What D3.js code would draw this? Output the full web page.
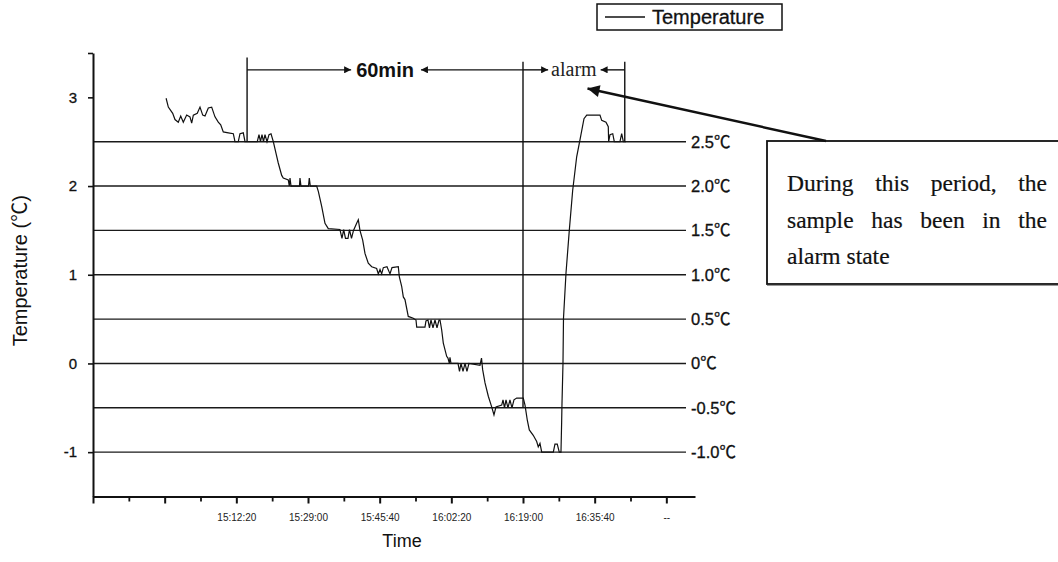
<!DOCTYPE html>
<html><head><meta charset="utf-8">
<script src="https://cdn.jsdelivr.net/npm/d3@7"></script>
<style>body{margin:0;background:#fff} svg{display:block}</style>
</head><body>
<svg id="c" width="1058" height="562"></svg>
<script>
// ---- data ----
const times = ["14:56:00","14:56:31","14:57:32","14:58:04","14:58:50","14:59:24","15:00:00","15:00:47","15:01:33","15:01:57",
"15:02:20","15:03:15","15:03:53","15:04:31","15:05:03","15:05:49","15:06:36","15:07:22","15:08:08","15:08:42",
"15:09:18","15:10:28","15:11:38","15:12:01","15:12:47","15:13:11","15:13:57","15:14:21","15:17:12","15:17:36",
"15:17:57","15:18:18","15:18:39","15:19:00","15:19:28","15:19:56","15:20:24","15:20:56","15:21:33","15:22:05",
"15:22:53","15:23:15","15:24:25","15:24:39","15:24:49","15:25:03","15:27:01","15:27:08","15:27:22","15:29:07",
"15:29:18","15:29:32","15:31:01","15:31:24","15:32:11","15:32:57","15:33:43","15:36:26","15:36:54","15:37:18",
"15:37:43","15:38:18","15:38:39","15:39:07","15:39:35","15:40:19","15:40:42","15:41:05","15:41:43","15:42:15",
"15:43:01","15:43:49","15:44:58","15:45:21","15:45:45","15:46:08","15:46:31","15:47:22","15:48:04","15:48:32",
"15:50:00","15:50:14","15:50:47","15:51:10","15:51:33","15:52:19","15:53:29","15:54:07","15:54:17","15:56:12",
"15:56:26","15:56:54","15:57:15","15:57:36","15:58:04","15:58:32","15:59:00","15:59:28","15:59:42","16:00:05",
"16:00:28","16:01:15","16:01:33","16:01:52","16:02:01","16:02:15","16:03:53","16:04:14","16:04:35","16:05:03",
"16:05:31","16:05:58","16:06:26","16:09:00","16:09:21","16:09:37","16:10:10","16:10:56","16:11:43","16:12:15",
"16:12:43","16:14:03","16:14:21","16:14:42","16:15:03","16:15:30","16:15:58","16:16:26","16:16:54","16:17:32",
"16:19:04","16:19:28","16:20:00","16:20:28","16:21:23","16:22:11","16:22:33","16:22:57","16:23:21","16:26:03",
"16:26:26","16:26:58","16:27:26","16:27:50","16:27:59","16:28:04","16:28:18","16:28:25","16:29:00","16:29:46",
"16:30:33","16:31:29","16:32:15","16:33:11","16:33:49","16:36:54","16:37:18","16:38:18","16:38:50","16:38:55",
"16:39:14","16:39:52","16:40:14","16:41:33","16:41:57","16:42:20","16:42:57"];
const temps = [2.99,2.89,2.82,2.75,2.72,2.79,2.72,2.80,2.78,2.71,
2.80,2.82,2.89,2.80,2.79,2.88,2.89,2.78,2.72,2.69,
2.61,2.60,2.59,2.50,2.50,2.59,2.60,2.50,2.50,2.58,
2.50,2.58,2.50,2.58,2.50,2.58,2.59,2.50,2.37,2.26,
2.12,2.09,2.07,2.00,2.09,2.00,2.00,2.09,2.00,2.00,
2.09,2.00,2.00,1.94,1.77,1.58,1.52,1.51,1.41,1.51,
1.41,1.41,1.51,1.41,1.50,1.58,1.62,1.50,1.39,1.24,
1.13,1.09,1.07,1.01,1.06,1.01,1.08,1.09,1.01,1.08,
1.09,0.98,0.87,0.75,0.72,0.53,0.51,0.49,0.41,0.41,
0.48,0.49,0.40,0.49,0.40,0.49,0.40,0.49,0.49,0.38,
0.23,0.08,0.06,0.00,0.07,0.00,0.00,-0.09,0.00,-0.09,
0.00,-0.09,0.00,-0.02,0.06,-0.07,-0.22,-0.37,-0.49,-0.58,
-0.49,-0.47,-0.41,-0.50,-0.41,-0.50,-0.41,-0.50,-0.41,-0.39,
-0.39,-0.47,-0.64,-0.75,-0.81,-0.88,-0.94,-0.90,-1.00,-1.00,
-0.91,-0.91,-1.00,-1.00,-0.67,-0.45,0.00,0.51,1.02,1.50,
1.95,2.33,2.52,2.76,2.80,2.80,2.74,2.72,2.67,2.50,
2.58,2.59,2.50,2.50,2.59,2.50,2.50];

const seriesName = "Temperature";
const xDomain = ["14:39:00", "16:59:00"];
const yDomain = [-1.5, 3.5];
const xMajorTicks = ["14:39:00","14:55:40","15:12:20","15:29:00","15:45:40","16:02:20","16:19:00","16:35:40","16:52:20"];
const xTickLabels = ["","","15:12:20","15:29:00","15:45:40","16:02:20","16:19:00","16:35:40","--"];
const yTicks = [-1, 0, 1, 2, 3];
const refLevels = [2.5, 2.0, 1.5, 1.0, 0.5, 0, -0.5, -1.0];
const refLabels = ["2.5℃","2.0℃","1.5℃","1.0℃","0.5℃","0℃","-0.5℃","-1.0℃"];
const bracketStart = "15:14:50";
const alarmStart = "16:19:00";
const alarmEnd = "16:42:40";
const arrowTip = {time: "16:34:00", temp: 3.10};
const calloutLines = ["During this period, the", "sample has been in the", "alarm state"];

// ---- setup ----
const parse = s => { const p = s.split(':').map(Number); return p[0]*3600 + p[1]*60 + p[2]; };
const data = times.map((t, i) => ({t: parse(t), v: temps[i]}));
const svg = d3.select('#c');
const SANS = "'Liberation Sans', Arial, 'Noto Sans CJK SC', sans-serif";
const SERIF = "'Liberation Serif', 'Times New Roman', serif";

const x = d3.scaleLinear().domain(xDomain.map(parse)).range([93, 695]);
const y = d3.scaleLinear().domain(yDomain).range([496.5, 53]);

// arrowhead markers
const defs = svg.append('defs');
defs.append('marker').attr('id','ah').attr('viewBox','0 0 10 10').attr('refX',10).attr('refY',5)
  .attr('markerUnits','userSpaceOnUse').attr('markerWidth',9).attr('markerHeight',7).attr('orient','auto-start-reverse')
  .append('path').attr('d','M0,0 L10,5 L0,10 Z').attr('fill','#111');
defs.append('marker').attr('id','bigah').attr('viewBox','0 0 10 10').attr('refX',10).attr('refY',5)
  .attr('markerUnits','userSpaceOnUse').attr('markerWidth',20).attr('markerHeight',12).attr('orient','auto')
  .append('path').attr('d','M0,0 L10,5 L0,10 Z').attr('fill','#111');

// reference lines
const refG = svg.append('g');
refG.selectAll('line').data(refLevels).join('line')
  .attr('x1', x.range()[0]).attr('x2', x.range()[1] - 9)
  .attr('y1', d => y(d)).attr('y2', d => y(d))
  .attr('stroke', '#1a1a1a').attr('stroke-width', 1.4);
refG.selectAll('text').data(refLevels).join('text')
  .attr('x', x.range()[1] - 4).attr('y', d => y(d)).attr('dy', '0.36em')
  .attr('font-family', SANS).attr('font-size', 16.5).attr('fill', '#111')
  .attr('stroke', '#111').attr('stroke-width', 0.3)
  .text((d, i) => refLabels[i]);

// axes
const gx = svg.append('g').attr('transform', `translate(0,${y.range()[0]})`)
  .call(d3.axisBottom(x).tickValues(xMajorTicks.map(parse)).tickFormat((d, i) => xTickLabels[i])
    .tickSizeInner(7).tickSizeOuter(0).tickPadding(10));
gx.select('.domain').attr('stroke', '#111').attr('stroke-width', 2);
gx.selectAll('.tick line').attr('stroke', '#111').attr('stroke-width', 2);
gx.selectAll('.tick text').attr('font-family', SANS).attr('font-size', 10).attr('fill', '#222');
const minor = xMajorTicks.slice(0, -1).map(s => parse(s) + 500);
const gxm = svg.append('g').attr('transform', `translate(0,${y.range()[0]})`)
  .call(d3.axisBottom(x).tickValues(minor).tickFormat('').tickSizeInner(5).tickSizeOuter(0));
gxm.select('.domain').remove();
gxm.selectAll('.tick line').attr('stroke', '#111').attr('stroke-width', 1.8);

const gy = svg.append('g').attr('transform', `translate(${x.range()[0]},0)`)
  .call(d3.axisLeft(y).tickValues(yTicks.concat([yDomain[1]])).tickFormat(d => yTicks.includes(d) ? d : '')
    .tickSizeInner(5).tickSizeOuter(0).tickPadding(11));
gy.select('.domain').attr('stroke', '#111').attr('stroke-width', 2);
gy.selectAll('.tick line').attr('stroke', '#111').attr('stroke-width', 1.6);
gy.selectAll('.tick text').attr('font-family', SANS).attr('font-size', 15).attr('fill', '#111')
  .attr('stroke', '#111').attr('stroke-width', 0.3);

// axis titles
svg.append('text').attr('x', (x.range()[0] + x.range()[1]) / 2 + 8).attr('y', 547).attr('text-anchor', 'middle')
  .attr('font-family', SANS).attr('font-size', 18).attr('fill', '#111').text('Time');
svg.append('text').attr('transform', `translate(27,${(y.range()[0] + y.range()[1]) / 2 - 4}) rotate(-90)`)
  .attr('text-anchor', 'middle').attr('font-family', SANS).attr('font-size', 20).attr('fill', '#111')
  .text('Temperature (℃)');

// series line
svg.append('path').datum(data)
  .attr('d', d3.line().x(d => x(d.t)).y(d => y(d.v)))
  .attr('fill', 'none').attr('stroke', '#111').attr('stroke-width', 1.2);

// legend
const lg = svg.append('g');
lg.append('rect').attr('x', 597).attr('y', 4).attr('width', 185).attr('height', 26)
  .attr('fill', '#fff').attr('stroke', '#111').attr('stroke-width', 1.5);
lg.append('line').attr('x1', 605).attr('x2', 645).attr('y1', 17).attr('y2', 17).attr('stroke', '#111').attr('stroke-width', 1.3);
lg.append('text').attr('x', 652).attr('y', 17).attr('dy', '0.36em').attr('font-family', SANS)
  .attr('font-size', 20).attr('fill', '#111').attr('stroke', '#111').attr('stroke-width', 0.3).text(seriesName);

// top annotation
const yTop = y(3.45), yArrow = y(3.31), yTop2 = y(3.40);
const xa = x(parse(bracketStart)), xb = x(parse(alarmStart)), xc = x(parse(alarmEnd));
const ann = svg.append('g').attr('stroke', '#111').attr('stroke-width', 1.4);
ann.append('line').attr('x1', xa).attr('x2', xa).attr('y1', yTop).attr('y2', y(2.5));
ann.append('line').attr('x1', xb).attr('x2', xb).attr('y1', yTop2).attr('y2', y(-0.5));
ann.append('line').attr('x1', xc).attr('x2', xc).attr('y1', yTop2).attr('y2', y(2.5));
const t60 = svg.append('text').attr('x', (xa + xb) / 2).attr('y', yArrow).attr('dy', '0.36em').attr('text-anchor', 'middle')
  .attr('font-family', SANS).attr('font-weight', 'bold').attr('font-size', 20).attr('fill', '#111').text('60min');
const tal = svg.append('text').attr('x', (xb + xc) / 2).attr('y', yArrow).attr('dy', '0.3em').attr('text-anchor', 'middle')
  .attr('font-family', SERIF).attr('font-size', 20).attr('fill', '#222').text('alarm');
const w60 = t60.node().getComputedTextLength(), wal = tal.node().getComputedTextLength();
const arrows = [
  [xa, (xa + xb) / 2 - w60 / 2 - 5],
  [xb, (xa + xb) / 2 + w60 / 2 + 7],
  [xb, (xb + xc) / 2 - wal / 2 - 3],
  [xc, (xb + xc) / 2 + wal / 2 + 4]
];
ann.selectAll('line.arr').data(arrows).join('line').attr('class', 'arr')
  .attr('x1', d => d[0]).attr('x2', d => d[1]).attr('y1', yArrow).attr('y2', yArrow)
  .attr('marker-end', 'url(#ah)');

// callout box
const bx = 767, by = 141, bh = 143;
svg.append('rect').attr('x', bx).attr('y', by).attr('width', 320).attr('height', bh)
  .attr('fill', '#fff').attr('stroke', '#111').attr('stroke-width', 1.8);
svg.append('line').attr('x1', bx).attr('x2', 1058).attr('y1', by + bh + 1).attr('y2', by + bh + 1)
  .attr('stroke', '#333').attr('stroke-width', 1.2);
svg.append('line').attr('x1', 826).attr('y1', by).attr('x2', x(parse(arrowTip.time))).attr('y2', y(arrowTip.temp))
  .attr('stroke', '#111').attr('stroke-width', 2.4).attr('marker-end', 'url(#bigah)');
const left = 787, right = 1047, baselines = [191, 228, 264];
calloutLines.forEach((line, li) => {
  const words = line.split(' ');
  const g = svg.append('g');
  const nodes = words.map(w => g.append('text').attr('y', baselines[li]).attr('font-family', SERIF)
    .attr('font-size', 23.5).attr('fill', '#111').attr('stroke', '#111').attr('stroke-width', 0.2).text(w));
  const widths = nodes.map(n => n.node().getComputedTextLength());
  const justify = li < calloutLines.length - 1;
  const gap = justify ? (right - left - d3.sum(widths)) / (words.length - 1) : 6;
  let cx = left;
  nodes.forEach((n, i) => { n.attr('x', cx); cx += widths[i] + gap; });
});
</script>
</body></html>
